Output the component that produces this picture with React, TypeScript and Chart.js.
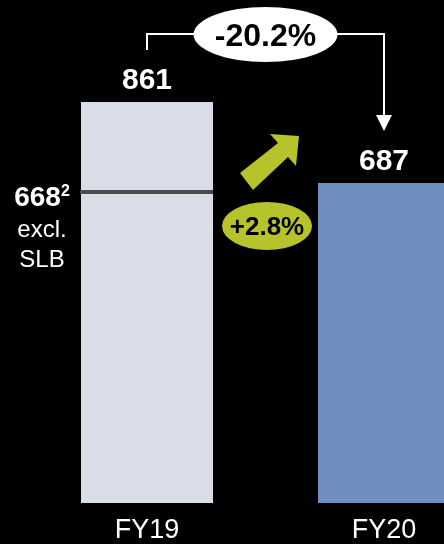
import React, { useEffect, useRef } from "react";
import { Chart, registerables } from "chart.js";

Chart.register(...registerables);

const categories = ["FY19", "FY20"];
const revenue = [861, 687];
const exclSlbValue = 668;
const exclSlbLabel = "668";
const exclSlbSup = "2";
const exclSlbLines = ["excl.", "SLB"];
const changeTotal = "-20.2%";
const changeExcl = "+2.8%";
const barColors = ["#d9dde7", "#6e8ebd"];

const FONT = '"Liberation Sans", Arial, Helvetica, sans-serif';
const GREEN = "#b6c32b";

const overlayPlugin = {
  id: "overlay",
  afterDatasetsDraw(chart: any) {
    const ctx = chart.ctx as CanvasRenderingContext2D;
    const meta = chart.getDatasetMeta(0);
    const b0 = meta.data[0] as any;
    const b1 = meta.data[1] as any;
    const y = chart.scales.y;
    const x19 = b0.x;
    const x20 = b1.x;
    const mid = (x19 + x20) / 2;
    const left0 = b0.x - b0.width / 2;
    const right0 = b0.x + b0.width / 2;

    ctx.save();
    // value labels
    ctx.fillStyle = "#ffffff";
    ctx.font = `bold 30px ${FONT}`;
    ctx.textAlign = "center";
    ctx.textBaseline = "alphabetic";
    meta.data.forEach((bar: any, i: number) => {
      ctx.fillText(String(revenue[i]), bar.x, bar.y - 13);
    });

    // excl. SLB line
    const ly = y.getPixelForValue(exclSlbValue);
    ctx.strokeStyle = "#4a4a4a";
    ctx.lineWidth = 4;
    ctx.beginPath();
    ctx.moveTo(left0 - 1, ly);
    ctx.lineTo(right0, ly);
    ctx.stroke();

    // left labels
    const lx = left0 - 39;
    ctx.fillStyle = "#ffffff";
    ctx.font = `bold 28px ${FONT}`;
    const w668 = ctx.measureText(exclSlbLabel).width;
    ctx.font = `bold 16px ${FONT}`;
    const wSup = ctx.measureText(exclSlbSup).width;
    const startX = lx - (w668 + wSup) / 2;
    ctx.textAlign = "left";
    ctx.font = `bold 28px ${FONT}`;
    ctx.fillText(exclSlbLabel, startX, ly + 14);
    ctx.font = `bold 16px ${FONT}`;
    ctx.fillText(exclSlbSup, startX + w668, ly + 4);
    ctx.textAlign = "center";
    ctx.font = `24px ${FONT}`;
    ctx.fillText(exclSlbLines[0], lx, ly + 45);
    ctx.fillText(exclSlbLines[1], lx, ly + 75);

    // bracket
    const by = b0.y - 68;
    ctx.strokeStyle = "#ffffff";
    ctx.lineWidth = 2;
    ctx.beginPath();
    ctx.moveTo(x19, b0.y - 52);
    ctx.lineTo(x19, by);
    ctx.lineTo(x20, by);
    ctx.lineTo(x20, b1.y - 62);
    ctx.stroke();
    ctx.fillStyle = "#ffffff";
    ctx.beginPath();
    ctx.moveTo(x20 - 8, b1.y - 68);
    ctx.lineTo(x20 + 8, b1.y - 68);
    ctx.lineTo(x20, b1.y - 52);
    ctx.closePath();
    ctx.fill();

    // white ellipse
    ctx.beginPath();
    ctx.ellipse(mid, by + 0.5, 72, 27.5, 0, 0, Math.PI * 2);
    ctx.fill();
    ctx.fillStyle = "#000000";
    ctx.font = `bold 32px ${FONT}`;
    ctx.textBaseline = "middle";
    ctx.fillText(changeTotal, mid, by + 3);

    // green arrow
    const ay = b1.y;
    const pts = [
      [-25.5, -10],
      [12.5, -40],
      [4.5, -49],
      [33.5, -47],
      [30.5, -17],
      [22.5, -26],
      [-12.5, 7],
    ];
    ctx.fillStyle = GREEN;
    ctx.beginPath();
    pts.forEach(([dx, dy], i) => {
      if (i === 0) ctx.moveTo(mid + dx, ay + dy);
      else ctx.lineTo(mid + dx, ay + dy);
    });
    ctx.closePath();
    ctx.fill();

    // green ellipse
    ctx.beginPath();
    ctx.ellipse(mid + 1.5, ay + 43, 45, 24, 0, 0, Math.PI * 2);
    ctx.fill();
    ctx.fillStyle = "#000000";
    ctx.font = `bold 26px ${FONT}`;
    ctx.fillText(changeExcl, mid + 1.5, ay + 45);
    ctx.restore();
  },
};

export default function App() {
  const ref = useRef<HTMLCanvasElement | null>(null);
  useEffect(() => {
    if (!ref.current) return;
    const chart = new Chart(ref.current, {
      type: "bar",
      data: {
        labels: categories,
        datasets: [
          {
            data: revenue,
            backgroundColor: barColors,
            borderWidth: 0,
            barPercentage: 1,
            categoryPercentage: 132 / 237,
          },
        ],
      },
      options: {
        responsive: false,
        devicePixelRatio: 1,
        animation: false,
        layout: { padding: { left: 28.5, right: 17.5, top: 0, bottom: -14 } },
        plugins: { legend: { display: false }, tooltip: { enabled: false } },
        scales: {
          x: {
            grid: { display: false, drawTicks: false },
            border: { display: false },
            ticks: {
              color: "#ffffff",
              padding: 14,
              font: { family: FONT, size: 27, lineHeight: 1 },
            },
          },
          y: { display: false, min: 0, max: 1080 },
        },
      },
      plugins: [overlayPlugin],
    });
    return () => chart.destroy();
  }, []);
  return (
    <div
      style={{
        position: "absolute",
        left: 0,
        top: 0,
        width: 444,
        height: 544,
        overflow: "hidden",
        background: "#000000",
      }}
    >
      <canvas ref={ref} width={520} height={544} style={{ display: "block", width: 520, height: 544 }} />
    </div>
  );
}
